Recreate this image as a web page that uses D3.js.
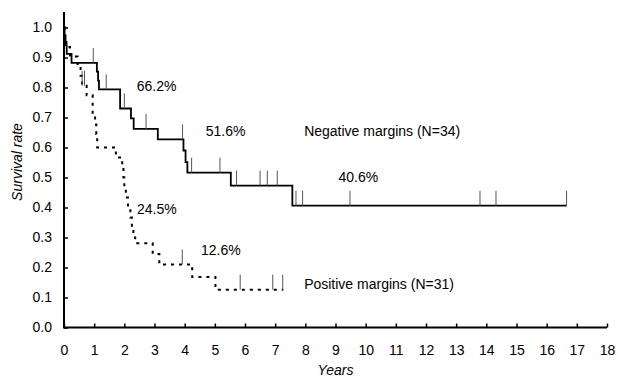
<!DOCTYPE html>
<html>
<head>
<meta charset="utf-8">
<script src="https://cdn.jsdelivr.net/npm/d3@7"></script>
<style>
body { margin: 0; background: #fff; }
text { font-family: "Liberation Sans", Arial, sans-serif; fill: #000; }
</style>
</head>
<body>
<svg width="618" height="379"></svg>
<script>
// Negative margins (N=34), Kaplan-Meier steps
var negTimes = [0, 0.02, 0.05, 0.09, 0.25, 1.09, 1.13, 1.16, 1.86, 2.22, 2.31, 3.11, 3.96, 4.03, 4.09, 5.53, 7.57, 16.66];
var negSurv  = [1.0, 0.971, 0.941, 0.912, 0.882, 0.853, 0.823, 0.794, 0.73, 0.697, 0.662, 0.627, 0.59, 0.551, 0.516, 0.473, 0.406, 0.406];
var negCensor = [0.97, 1.4, 2.0, 2.72, 3.93, 4.23, 5.17, 5.72, 6.5, 6.74, 7.07, 7.69, 7.91, 9.48, 13.79, 14.32, 16.66];

// Positive margins (N=31)
var posTimes = [0, 0.04, 0.08, 0.2, 0.45, 0.55, 0.6, 0.75, 0.95, 1.03, 1.07, 1.1, 1.72, 1.93, 1.97, 2.0, 2.05, 2.12, 2.2, 2.25, 2.3, 2.36, 2.94, 3.16, 4.25, 5.02, 7.27];
var posSurv  = [1.0, 0.968, 0.935, 0.903, 0.871, 0.839, 0.806, 0.774, 0.71, 0.677, 0.645, 0.60, 0.567, 0.533, 0.50, 0.467, 0.433, 0.40, 0.367, 0.333, 0.30, 0.281, 0.245, 0.21, 0.168, 0.126, 0.126];
var posCensor = [0.6, 0.68, 3.92, 5.84, 6.92, 7.25];

var xTicks = d3.range(0, 19);
var yTicks = [0, 0.1, 0.2, 0.3, 0.4, 0.5, 0.6, 0.7, 0.8, 0.9, 1.0];

var notes = [
  {t: "66.2%", x: 2.41, y: 0.79},
  {t: "51.6%", x: 4.7, y: 0.64},
  {t: "Negative margins (N=34)", x: 7.96, y: 0.637},
  {t: "40.6%", x: 9.1, y: 0.484},
  {t: "24.5%", x: 2.42, y: 0.38},
  {t: "12.6%", x: 4.54, y: 0.242},
  {t: "Positive margins (N=31)", x: 7.96, y: 0.13}
];

var svg = d3.select("svg");
var x = d3.scaleLinear().domain([0, 18]).range([64, 607]);
var y = d3.scaleLinear().domain([0, 1]).range([327.5, 27.5]);

// axes
var xAxis = svg.append("g")
  .attr("transform", "translate(0," + y(0) + ")")
  .call(d3.axisBottom(x).tickValues(xTicks).tickSize(-4).tickSizeOuter(0).tickPadding(18));
xAxis.select(".domain").remove();
xAxis.selectAll("line").attr("stroke", "#000").attr("stroke-width", 1.5);
xAxis.selectAll("text").style("font-size", "14px").attr("font-family", null);

var yAxis = svg.append("g")
  .attr("transform", "translate(" + x(0) + ",0)")
  .call(d3.axisLeft(y).tickValues(yTicks).tickSize(-4).tickPadding(12).tickFormat(d3.format(".1f")));
yAxis.select(".domain").remove();
yAxis.selectAll("line").attr("stroke", "#000").attr("stroke-width", 1.5);
yAxis.selectAll("text").style("font-size", "14px").attr("font-family", null);

svg.append("line")
  .attr("x1", x(0)).attr("x2", x(18))
  .attr("y1", y(0)).attr("y2", y(0))
  .attr("stroke", "#000").attr("stroke-width", 2);
svg.append("line")
  .attr("x1", x(0)).attr("x2", x(0))
  .attr("y1", y(0) + 1).attr("y2", 12)
  .attr("stroke", "#000").attr("stroke-width", 2);

// step lines
var step = d3.line()
  .x(function(d) { return x(d[0]); })
  .y(function(d) { return y(d[1]); })
  .curve(d3.curveStepAfter);

svg.append("path")
  .attr("d", step(d3.zip(negTimes, negSurv)))
  .attr("fill", "none")
  .attr("stroke", "#000")
  .attr("stroke-width", 1.8);

svg.append("path")
  .attr("d", step(d3.zip(posTimes, posSurv)))
  .attr("fill", "none")
  .attr("stroke", "#000")
  .attr("stroke-width", 2)
  .attr("stroke-dasharray", "3,5");

// censor marks
function survAt(times, surv, t) {
  var i = d3.bisectRight(times, t) - 1;
  return surv[Math.max(0, i)];
}

function censor(times, surv, list) {
  svg.append("g").selectAll("line")
    .data(list)
    .enter().append("line")
    .attr("x1", function(d) { return x(d); })
    .attr("x2", function(d) { return x(d); })
    .attr("y1", function(d) { return y(survAt(times, surv, d)); })
    .attr("y2", function(d) { return y(survAt(times, surv, d)) - 15; })
    .attr("stroke", "#555")
    .attr("stroke-width", 1);
}
censor(negTimes, negSurv, negCensor);
censor(posTimes, posSurv, posCensor);

// annotations
svg.append("g").selectAll("text")
  .data(notes)
  .enter().append("text")
  .attr("x", function(d) { return x(d.x); })
  .attr("y", function(d) { return y(d.y); })
  .style("font-size", "14px")
  .text(function(d) { return d.t; });

svg.append("text")
  .attr("x", x(9))
  .attr("y", 375)
  .attr("text-anchor", "middle")
  .style("font-size", "14px")
  .style("font-style", "italic")
  .text("Years");

svg.append("text")
  .attr("transform", "translate(22,162)rotate(-90)")
  .attr("text-anchor", "middle")
  .style("font-size", "14px")
  .style("font-style", "italic")
  .text("Survival rate");
</script>
</body>
</html>
